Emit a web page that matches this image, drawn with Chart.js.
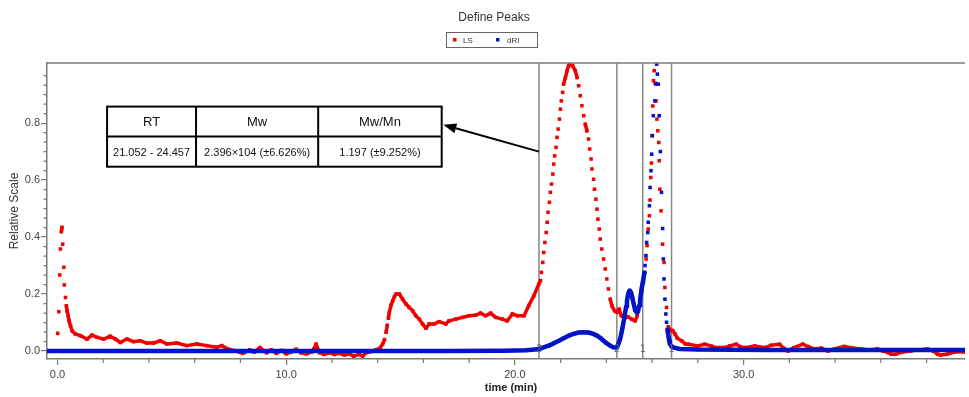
<!DOCTYPE html>
<html>
<head>
<meta charset="utf-8">
<script src="https://cdn.jsdelivr.net/npm/chart.js@4.4.0/dist/chart.umd.min.js"></script>
<style>
  html, body { margin: 0; padding: 0; background: #fff; }
  canvas { display: block; }
</style>
</head>
<body>
<canvas id="chart" width="969" height="397"></canvas>
<script>
// LS trace (red)
const lsTime = [
  0.01, 0.06, 0.10, 0.13, 0.17, 0.20, 0.23, 0.28, 0.30, 0.35,
  0.39, 0.42, 0.47, 0.51, 0.57, 0.64, 0.78, 1.00, 1.29, 1.51,
  1.73, 2.02, 2.31, 2.53, 2.75, 3.04, 3.33, 3.62, 3.91, 4.20,
  4.49, 4.78, 5.22, 5.65, 6.09, 6.52, 6.96, 7.18, 7.47, 7.83,
  8.10, 8.41, 8.60, 8.85, 9.14, 9.35, 9.57, 9.80, 10.00, 10.20,
  10.44, 10.65, 10.88, 11.10, 11.20, 11.31, 11.46, 11.65, 11.90, 12.10,
  12.33, 12.55, 12.77, 12.95, 13.20, 13.35, 13.49, 13.70, 13.93, 14.10,
  14.22, 14.30, 14.37, 14.42, 14.47, 14.51, 14.58, 14.66, 14.73, 14.80,
  14.95, 15.09, 15.24, 15.38, 15.53, 15.67, 15.82, 15.96, 16.11, 16.25,
  16.47, 16.69, 16.98, 17.12, 17.42, 17.71, 18.00, 18.29, 18.50, 18.72,
  18.94, 19.16, 19.45, 19.67, 19.89, 20.11, 20.40, 20.61, 20.83, 21.05,
  21.12, 21.16, 21.22, 21.26, 21.31, 21.37, 21.41, 21.45, 21.51, 21.55,
  21.60, 21.66, 21.70, 21.74, 21.80, 21.84, 21.89, 21.95, 21.99, 22.03,
  22.09, 22.13, 22.21, 22.28, 22.35, 22.42, 22.53, 22.64, 22.72, 22.79,
  22.86, 22.93, 23.01, 23.08, 23.15, 23.22, 23.27, 23.33, 23.37, 23.44,
  23.48, 23.54, 23.59, 23.63, 23.69, 23.73, 23.80, 23.88, 23.95, 24.02,
  24.09, 24.17, 24.24, 24.36, 24.46, 24.56, 24.65, 24.75, 24.82, 24.95,
  25.10, 25.26, 25.33, 25.40, 25.47, 25.55, 25.62, 25.69, 25.74, 25.78,
  25.83, 25.88, 25.91, 25.94, 25.97, 26.00, 26.03, 26.06, 26.09, 26.13,
  26.17, 26.21, 26.25, 26.29, 26.31, 26.34, 26.39, 26.46, 26.52, 26.56,
  26.63, 26.71, 26.80, 26.90, 27.00, 27.10, 27.29, 27.45, 27.58, 28.00,
  28.30, 28.60, 28.74, 29.17, 29.40, 29.68, 29.90, 30.05, 30.48, 30.92,
  31.20, 31.57, 31.75, 31.94, 32.20, 32.59, 32.80, 33.10, 33.40, 33.68,
  34.00, 34.41, 34.80, 35.13, 35.50, 35.86, 36.10, 36.30, 36.45, 36.66,
  36.90, 37.31, 37.60, 38.04, 38.30, 38.48, 38.60, 38.91, 39.20, 39.49,
  39.80
];
const lsValue = [
  0.062, 0.138, 0.267, 0.358, 0.419, 0.434, 0.375, 0.294, 0.232, 0.188,
  0.159, 0.141, 0.124, 0.106, 0.089, 0.071, 0.060, 0.054, 0.042, 0.056,
  0.048, 0.042, 0.052, 0.042, 0.030, 0.042, 0.033, 0.036, 0.028, 0.028,
  0.036, 0.025, 0.028, 0.019, 0.025, 0.019, 0.013, 0.019, 0.006, 0.000,
  -0.008, 0.004, -0.004, 0.012, -0.006, 0.004, -0.008, 0.002, -0.010, -0.004,
  0.006, -0.006, -0.010, -0.004, 0.006, 0.024, -0.006, -0.012, -0.006, -0.012,
  -0.008, -0.014, -0.010, -0.018, -0.012, -0.018, -0.006, -0.002, 0.004, 0.010,
  0.025, 0.040, 0.066, 0.090, 0.115, 0.136, 0.160, 0.177, 0.190, 0.200,
  0.200, 0.182, 0.165, 0.153, 0.141, 0.124, 0.112, 0.095, 0.080, 0.095,
  0.095, 0.103, 0.095, 0.106, 0.112, 0.118, 0.124, 0.126, 0.133, 0.124,
  0.133, 0.118, 0.112, 0.106, 0.130, 0.124, 0.124, 0.160, 0.194, 0.236,
  0.247, 0.276, 0.311, 0.346, 0.381, 0.416, 0.452, 0.487, 0.522, 0.557,
  0.586, 0.621, 0.656, 0.685, 0.715, 0.750, 0.779, 0.814, 0.849, 0.878,
  0.908, 0.937, 0.960, 0.984, 1.001, 1.007, 1.001, 0.984, 0.960, 0.931,
  0.896, 0.861, 0.826, 0.796, 0.773, 0.744, 0.709, 0.674, 0.639, 0.603,
  0.568, 0.533, 0.498, 0.463, 0.428, 0.393, 0.358, 0.323, 0.288, 0.253,
  0.218, 0.182, 0.159, 0.141, 0.136, 0.147, 0.124, 0.118, 0.118, 0.120,
  0.112, 0.106, 0.120, 0.142, 0.180, 0.210, 0.241, 0.276, 0.323, 0.370,
  0.428, 0.475, 0.530, 0.609, 0.660, 0.756, 0.860, 0.949, 0.984, 0.940,
  0.878, 0.814, 0.773, 0.732, 0.668, 0.568, 0.492, 0.375, 0.311, 0.223,
  0.153, 0.085, 0.070, 0.072, 0.060, 0.045, 0.036, 0.025, 0.024, 0.018,
  0.024, 0.017, 0.012, 0.012, 0.018, 0.024, 0.013, 0.012, 0.018, 0.012,
  0.020, 0.024, 0.010, 0.000, 0.012, 0.024, 0.016, 0.007, 0.010, 0.000,
  0.008, 0.016, 0.010, 0.007, 0.004, 0.007, 0.000, -0.005, -0.011, -0.011,
  -0.004, 0.000, 0.004, 0.007, 0.000, -0.011, -0.014, -0.011, -0.004, -0.002,
  -0.005
];

// dRI trace (blue)
const driTime = [
  -0.50, 2.00, 5.00, 8.00, 11.00, 14.00, 17.00, 19.50, 20.50, 21.00,
  21.12, 21.48, 21.70, 21.92, 22.15, 22.35, 22.60, 22.79, 23.00, 23.22,
  23.40, 23.59, 23.75, 23.88, 24.00, 24.17, 24.30, 24.46, 24.50, 24.55,
  24.60, 24.65, 24.70, 24.74, 24.78, 24.82, 24.86, 24.90, 24.94, 24.98,
  25.02, 25.08, 25.14, 25.20, 25.26, 25.32, 25.38, 25.44, 25.47, 25.50,
  25.54, 25.58, 25.62, 25.66, 25.69, 25.73, 25.76, 25.81, 25.83, 25.88,
  25.91, 25.95, 25.98, 26.01, 26.05, 26.12, 26.17, 26.20, 26.23, 26.27,
  26.31, 26.36, 26.41, 26.46, 26.49, 26.52, 26.56, 26.60, 26.63, 26.67,
  26.71, 26.75, 26.78, 26.85, 26.92, 27.21, 28.00, 31.00, 35.00, 39.80
];
const driValue = [
  0, 0, 0, 0, 0, 0, 0, 0.001, 0.003, 0.006,
  0.009, 0.019, 0.027, 0.036, 0.046, 0.054, 0.061, 0.065, 0.066, 0.065,
  0.061, 0.054, 0.045, 0.036, 0.028, 0.019, 0.013, 0.012, 0.020, 0.030,
  0.042, 0.060, 0.080, 0.097, 0.113, 0.135, 0.155, 0.175, 0.195, 0.207,
  0.212, 0.205, 0.185, 0.163, 0.143, 0.136, 0.140, 0.159, 0.175, 0.194,
  0.218, 0.236, 0.253, 0.275, 0.300, 0.335, 0.381, 0.416, 0.452, 0.510,
  0.574, 0.633, 0.691, 0.756, 0.826, 0.878, 0.937, 1.007, 0.972, 0.937,
  0.826, 0.700, 0.557, 0.430, 0.323, 0.253, 0.182, 0.130, 0.101, 0.075,
  0.054, 0.035, 0.024, 0.016, 0.013, 0.007, 0.005, 0.004, 0.004, 0.004
];

const peakBounds = [21.052, 24.457, 25.59, 26.85];
const peakNumbers = ['2', '2', '1', '1'];
const xTicks = [0, 10, 20, 30];
const yTicks = [0, 0.2, 0.4, 0.6, 0.8];
const tableHead = ['RT', 'Mw', 'Mw/Mn'];
const tableRow = ['21.052 - 24.457', '2.396×104 (±6.626%)', '1.197 (±9.252%)'];

const RED = 'rgb(240,0,0)';
const BLUE = 'rgb(0,20,200)';
const FONT = '"Liberation Sans", Arial, sans-serif';

Chart.defaults.font.family = FONT;

const toPoints = (xs, ys) => xs.map((x, i) => ({ x: x, y: ys[i] }));

// dense samples overlap into a thick trace; on steep stretches only the dots show
const isSteep = ctx => {
  const dx = Math.abs(ctx.p1.x - ctx.p0.x);
  const dy = Math.abs(ctx.p1.y - ctx.p0.y);
  return dy > 7 && dy > 2.5 * dx;
};

const traceStyle = (color, width) => ({
  showLine: true,
  borderColor: color,
  backgroundColor: color,
  borderWidth: width,
  borderJoinStyle: 'round',
  borderCapStyle: 'round',
  pointStyle: 'rect',
  pointRadius: 2.5,
  pointBorderWidth: 0,
  pointBackgroundColor: color,
  tension: 0,
  segment: {
    borderColor: ctx => isSteep(ctx) ? 'rgba(0,0,0,0)' : color
  }
});

const decor = {
  id: 'decor',
  beforeDatasetsDraw(chart) {
    const { ctx, chartArea: a, scales: { x } } = chart;
    ctx.save();
    ctx.strokeStyle = '#858585';
    ctx.lineWidth = 1.5;
    peakBounds.forEach(v => {
      const px = x.getPixelForValue(v);
      ctx.beginPath();
      ctx.moveTo(px, a.top);
      ctx.lineTo(px, a.bottom);
      ctx.stroke();
    });
    ctx.restore();
  },
  afterDatasetsDraw(chart) {
    const { ctx, chartArea: a, scales: { x, y } } = chart;
    ctx.save();

    // peak numbers at the foot of each bound
    ctx.font = '10px ' + FONT;
    ctx.fillStyle = '#666';
    ctx.textAlign = 'center';
    ctx.textBaseline = 'middle';
    peakBounds.forEach((v, i) => {
      ctx.fillText(peakNumbers[i], x.getPixelForValue(v), a.bottom - 10);
    });

    // results table
    const cx = [2.17, 6.06, 11.4, 16.8].map(v => x.getPixelForValue(v));
    const ry = [0.858, 0.753, 0.647].map(v => y.getPixelForValue(v));
    ctx.fillStyle = '#fff';
    ctx.fillRect(cx[0], ry[0], cx[3] - cx[0], ry[2] - ry[0]);
    ctx.strokeStyle = '#000';
    ctx.lineWidth = 2;
    ctx.strokeRect(cx[0], ry[0], cx[3] - cx[0], ry[2] - ry[0]);
    ctx.beginPath();
    ctx.moveTo(cx[0], ry[1]); ctx.lineTo(cx[3], ry[1]);
    ctx.moveTo(cx[1], ry[0]); ctx.lineTo(cx[1], ry[2]);
    ctx.moveTo(cx[2], ry[0]); ctx.lineTo(cx[2], ry[2]);
    ctx.stroke();
    ctx.fillStyle = '#111';
    for (let i = 0; i < 3; i++) {
      const mid = (cx[i] + cx[i + 1]) / 2;
      ctx.font = '13px ' + FONT;
      ctx.fillText(tableHead[i], mid, (ry[0] + ry[1]) / 2 + 1);
      ctx.font = '11px ' + FONT;
      ctx.fillText(tableRow[i], mid, (ry[1] + ry[2]) / 2 + 1);
    }

    // arrow from the first bound to the table
    const x0 = x.getPixelForValue(peakBounds[0]), y0 = y.getPixelForValue(0.70);
    const x1 = x.getPixelForValue(16.87), y1 = y.getPixelForValue(0.794);
    const ang = Math.atan2(y1 - y0, x1 - x0);
    const head = 13, half = 5;
    const bx = x1 - head * Math.cos(ang), by = y1 - head * Math.sin(ang);
    ctx.lineWidth = 2;
    ctx.beginPath();
    ctx.moveTo(x0, y0);
    ctx.lineTo(bx, by);
    ctx.stroke();
    ctx.fillStyle = '#000';
    ctx.beginPath();
    ctx.moveTo(x1, y1);
    ctx.lineTo(bx + half * Math.sin(ang), by - half * Math.cos(ang));
    ctx.lineTo(bx - half * Math.sin(ang), by + half * Math.cos(ang));
    ctx.closePath();
    ctx.fill();
    ctx.restore();
  },
  afterDraw(chart) {
    const { ctx, chartArea: a, scales: { x, y } } = chart;
    ctx.save();

    // frame top and minor ticks
    ctx.strokeStyle = '#7a7a7a';
    ctx.lineWidth = 1.5;
    ctx.beginPath();
    ctx.moveTo(a.left, a.top);
    ctx.lineTo(a.right, a.top);
    ctx.stroke();
    ctx.lineWidth = 1.2;
    ctx.beginPath();
    for (let k = 1; k <= 30; k++) {
      if (k % 6 === 0) continue;
      const py = y.getPixelForValue(k / 30);
      ctx.moveTo(a.left - 3.5, py);
      ctx.lineTo(a.left, py);
    }
    for (let v = 2; v < 40; v += 2) {
      if (v % 10 === 0) continue;
      const px = x.getPixelForValue(v);
      ctx.moveTo(px, a.bottom);
      ctx.lineTo(px, a.bottom + 4);
    }
    ctx.stroke();

    // title
    ctx.fillStyle = '#333';
    ctx.textAlign = 'center';
    ctx.textBaseline = 'middle';
    ctx.font = '12px ' + FONT;
    ctx.fillText('Define Peaks', 494, 18);

    // legend
    ctx.strokeStyle = '#666';
    ctx.lineWidth = 1;
    ctx.strokeRect(446.5, 32.5, 91, 15);
    ctx.font = '8px ' + FONT;
    ctx.textAlign = 'left';
    ctx.fillStyle = RED;
    ctx.fillRect(453, 38, 3.5, 3.5);
    ctx.fillStyle = '#333';
    ctx.fillText('LS', 463, 40.5);
    ctx.fillStyle = BLUE;
    ctx.fillRect(496, 38, 3.5, 3.5);
    ctx.fillStyle = '#333';
    ctx.fillText('dRI', 507, 40.5);

    // axis titles
    ctx.textAlign = 'center';
    ctx.font = 'bold 11px ' + FONT;
    ctx.fillStyle = '#222';
    ctx.fillText('time (min)', 511, 388);
    ctx.translate(15, (a.top + a.bottom) / 2);
    ctx.rotate(-Math.PI / 2);
    ctx.font = '12px ' + FONT;
    ctx.fillStyle = '#333';
    ctx.fillText('Relative Scale', 0, 0);
    ctx.restore();
  }
};

new Chart(document.getElementById('chart'), {
  type: 'scatter',
  data: {
    datasets: [
      Object.assign({ label: 'dRI', data: toPoints(driTime, driValue), order: 0 }, traceStyle(BLUE, 4.5)),
      Object.assign({ label: 'LS', data: toPoints(lsTime, lsValue), order: 1 }, traceStyle(RED, 3.5))
    ]
  },
  options: {
    responsive: false,
    animation: false,
    devicePixelRatio: 1,
    layout: { padding: { top: 63, left: 0, right: 0, bottom: 0 } },
    plugins: {
      legend: { display: false },
      title: { display: false },
      tooltip: { enabled: false }
    },
    scales: {
      x: {
        type: 'linear',
        min: -0.457,
        max: 39.68,
        afterFit: s => { s.height = 38; },
        afterBuildTicks: s => { s.ticks = xTicks.map(v => ({ value: v })); },
        ticks: {
          callback: v => Number(v).toFixed(1),
          color: '#444',
          font: { size: 11 },
          padding: 3,
          maxRotation: 0,
          autoSkip: false
        },
        grid: { drawOnChartArea: false, tickLength: 6, color: '#7a7a7a', lineWidth: 1.2 },
        border: { color: '#7a7a7a', width: 1.5 }
      },
      y: {
        type: 'linear',
        min: -0.028,
        max: 1.011,
        afterFit: s => { s.width = 47; },
        afterBuildTicks: s => { s.ticks = yTicks.map(v => ({ value: v })); },
        ticks: {
          callback: v => Number(v).toFixed(1),
          color: '#444',
          font: { size: 11 },
          padding: 1,
          autoSkip: false
        },
        grid: { drawOnChartArea: false, tickLength: 6, color: '#7a7a7a', lineWidth: 1.2 },
        border: { color: '#7a7a7a', width: 1.5 }
      }
    }
  },
  plugins: [decor]
});
</script>
</body>
</html>
